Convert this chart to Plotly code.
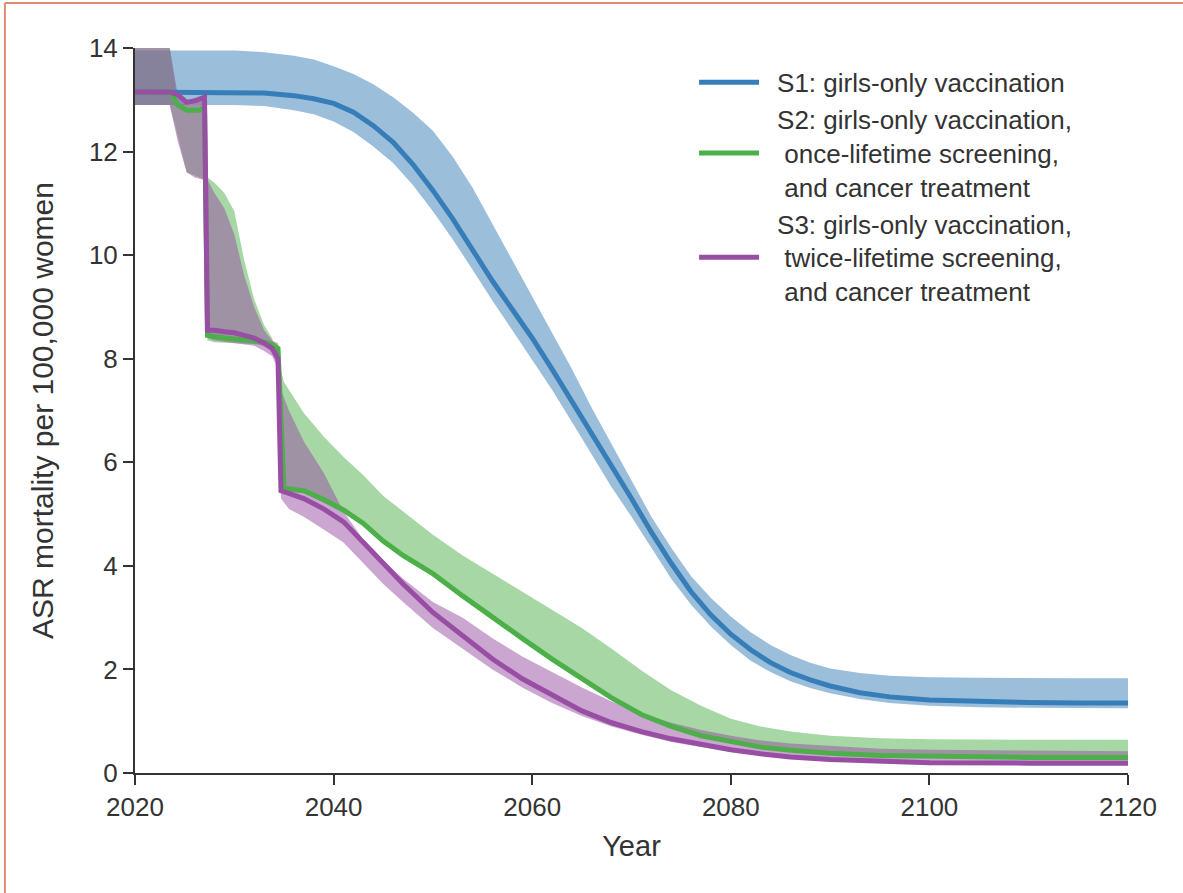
import plotly.graph_objects as go

# ---------------- data ----------------
years1 = [2020, 2025, 2030, 2033, 2036, 2038, 2040, 2042, 2044, 2046, 2048, 2050, 2052, 2054, 2056, 2058,
          2060, 2062, 2064, 2066, 2068, 2070, 2072, 2074, 2076, 2078, 2080, 2082, 2084, 2086, 2088, 2090,
          2093, 2096, 2100, 2105, 2110, 2115, 2120]
mean1 = [13.15, 13.15, 13.15, 13.13, 13.08, 13.02, 12.93, 12.76, 12.5, 12.18, 11.75, 11.25, 10.7, 10.1,
         9.5, 8.95, 8.4, 7.8, 7.18, 6.55, 5.92, 5.3, 4.65, 4.05, 3.5, 3.05, 2.68, 2.38, 2.13, 1.94, 1.8,
         1.68, 1.55, 1.47, 1.41, 1.38, 1.36, 1.35, 1.35]
upper1 = [13.95, 13.95, 13.95, 13.92, 13.85, 13.78, 13.65, 13.5, 13.3, 13.05, 12.75, 12.4, 11.9, 11.3,
          10.6, 9.9, 9.2, 8.5, 7.8, 7.05, 6.35, 5.65, 4.95, 4.35, 3.8, 3.38, 3.02, 2.72, 2.47, 2.28,
          2.13, 2.02, 1.93, 1.88, 1.85, 1.84, 1.83, 1.83, 1.83]
lower1 = [12.9, 12.9, 12.9, 12.88, 12.8, 12.72, 12.58, 12.38, 12.1, 11.78, 11.35, 10.85, 10.3, 9.72, 9.12,
          8.55, 7.98, 7.4, 6.78, 6.15, 5.52, 4.95, 4.35, 3.75, 3.25, 2.83, 2.47, 2.17, 1.95, 1.77, 1.64,
          1.54, 1.43, 1.35, 1.3, 1.27, 1.26, 1.25, 1.25]

years2 = [2020, 2023.5, 2024.3, 2025.2, 2026.5, 2027.0, 2027.3, 2028, 2029, 2030, 2031, 2032, 2033, 2033.8,
          2034.4, 2035, 2037, 2039, 2041, 2043, 2045, 2047, 2050, 2053, 2056, 2059, 2062, 2065, 2068, 2071,
          2074, 2077, 2080, 2083, 2086, 2090, 2095, 2100, 2110, 2120]
mean2 = [13.15, 13.15, 12.9, 12.8, 12.8, 12.85, 8.45, 8.42, 8.4, 8.38, 8.36, 8.35, 8.32, 8.28, 8.2, 5.5,
         5.45, 5.28, 5.08, 4.82, 4.48, 4.2, 3.85, 3.42, 3.0, 2.6, 2.2, 1.82, 1.45, 1.13, 0.9, 0.72, 0.6,
         0.5, 0.44, 0.38, 0.34, 0.32, 0.3, 0.3]
upper2 = [14.0, 14.0, 12.95, 12.9, 12.9, 12.95, 11.5, 11.4, 11.2, 10.85, 9.9, 9.15, 8.65, 8.4, 8.0, 7.55,
          6.95, 6.5, 6.1, 5.75, 5.35, 5.05, 4.6, 4.2, 3.85, 3.5, 3.15, 2.8, 2.4, 1.98, 1.6, 1.3, 1.05, 0.9,
          0.8, 0.72, 0.67, 0.65, 0.64, 0.64]
lower2 = [12.9, 12.9, 12.3, 11.6, 11.5, 11.45, 8.35, 8.32, 8.31, 8.3, 8.29, 8.28, 8.25, 8.2, 7.95, 5.45,
          5.4, 5.22, 5.02, 4.76, 4.42, 4.14, 3.8, 3.37, 2.95, 2.55, 2.15, 1.77, 1.4, 1.08, 0.86, 0.69, 0.57,
          0.47, 0.41, 0.35, 0.31, 0.29, 0.28, 0.28]

years3 = [2020, 2023.5, 2024.3, 2025.2, 2026, 2027.0, 2027.3, 2028, 2029, 2030, 2031, 2032, 2033, 2033.8,
          2034.4, 2034.7, 2035.5, 2037, 2039, 2041, 2043, 2045, 2047, 2050, 2053, 2056, 2059, 2062, 2065,
          2068, 2071, 2074, 2077, 2080, 2083, 2086, 2090, 2095, 2100, 2110, 2120]
mean3 = [13.15, 13.15, 13.1, 12.95, 12.98, 13.05, 8.55, 8.55, 8.52, 8.5, 8.45, 8.4, 8.3, 8.2, 8.0, 5.45,
         5.4, 5.3, 5.1, 4.85, 4.45, 4.05, 3.65, 3.1, 2.65, 2.2, 1.82, 1.5, 1.2, 0.97, 0.8, 0.66, 0.55, 0.45,
         0.37, 0.31, 0.26, 0.22, 0.2, 0.19, 0.19]
upper3 = [14.0, 14.0, 13.1, 12.98, 13.0, 13.05, 11.45, 11.2, 10.9, 10.4, 9.6, 9.0, 8.55, 8.35, 8.3, 7.4,
          7.0, 6.4, 5.8, 5.05, 4.5, 4.1, 3.75, 3.3, 3.0, 2.6, 2.25, 1.95, 1.65, 1.38, 1.15, 0.97, 0.83, 0.72,
          0.63, 0.57, 0.52, 0.47, 0.45, 0.43, 0.42]
lower3 = [12.9, 12.9, 12.2, 11.6, 11.5, 11.45, 8.4, 8.35, 8.33, 8.3, 8.28, 8.25, 8.15, 8.05, 7.8, 5.3,
          5.1, 4.95, 4.7, 4.45, 4.05, 3.65, 3.3, 2.8, 2.4, 2.0, 1.65, 1.35, 1.1, 0.9, 0.74, 0.6, 0.5, 0.41,
          0.34, 0.28, 0.23, 0.2, 0.18, 0.17, 0.17]

sp = "\u2002"
names = [sp + "S1: girls-only vaccination",
         sp + "S2: girls-only vaccination,<br>" + sp + " once-lifetime screening,<br>" + sp + " and cancer treatment",
         sp + "S3: girls-only vaccination,<br>" + sp + " twice-lifetime screening,<br>" + sp + " and cancer treatment"]
colors = ["#377eb8", "#4daf4a", "#984ea3"]
fills = ["rgba(55,126,184,0.5)", "rgba(77,175,74,0.5)", "rgba(152,78,163,0.5)"]

x_ticks = [2020, 2040, 2060, 2080, 2100, 2120]
y_ticks = [0, 2, 4, 6, 8, 10, 12, 14]

series = [(years1, mean1, upper1, lower1), (years2, mean2, upper2, lower2), (years3, mean3, upper3, lower3)]

fig = go.Figure()
for (yrs, m, u, l), c, f in zip(series, colors, fills):
    fig.add_trace(go.Scatter(x=yrs, y=l, mode="lines", line=dict(width=0, color=c),
                             showlegend=False, hoverinfo="skip"))
    fig.add_trace(go.Scatter(x=yrs, y=u, mode="lines", line=dict(width=0, color=c), fill="tonexty",
                             fillcolor=f, showlegend=False, hoverinfo="skip"))
for i, ((yrs, m, u, l), c, n) in enumerate(zip(series, colors, names)):
    fig.add_trace(go.Scatter(x=yrs, y=m, mode="lines", line=dict(width=5, color=c), name=n,
                             legendgroup="g%d" % i))

font_family = "Liberation Sans, Arial, sans-serif"
txt = "#333333"
fig.update_layout(
    width=1183, height=893,
    margin=dict(l=135, r=55, t=48, b=120),
    paper_bgcolor="white", plot_bgcolor="white",
    font=dict(family=font_family, size=26, color=txt),
    xaxis=dict(range=[2020, 2120], tickvals=x_ticks, showline=True, linecolor=txt, linewidth=2,
               ticks="outside", ticklen=10, tickwidth=2, tickcolor=txt, showgrid=False,
               zeroline=False, title=dict(text="Year", font=dict(size=29), standoff=14),
               tickfont=dict(size=26)),
    yaxis=dict(range=[0, 14], tickvals=y_ticks, showline=True, linecolor=txt, linewidth=2,
               ticks="outside", ticklen=10, tickwidth=2, tickcolor=txt, showgrid=False,
               zeroline=False, title=dict(text="ASR mortality per 100,000 women", font=dict(size=30),
                                          standoff=26),
               tickfont=dict(size=26)),
    legend=dict(x=0.563, y=0.985, xanchor="left", yanchor="top", bgcolor="rgba(0,0,0,0)",
                font=dict(size=26), itemwidth=60, tracegroupgap=6, traceorder="normal"),
    shapes=[
        dict(type="line", xref="paper", yref="paper", x0=-0.131, x1=1.06, y0=1.062, y1=1.062,
             line=dict(color="#e08a70", width=2)),
        dict(type="line", xref="paper", yref="paper", x0=-0.131, x1=-0.131, y0=1.062, y1=-0.17,
             line=dict(color="#e08a70", width=2)),
    ],
)

fig.write_html("out.html", config={"displayModeBar": False},
               post_script="document.body.style.margin='0';")
